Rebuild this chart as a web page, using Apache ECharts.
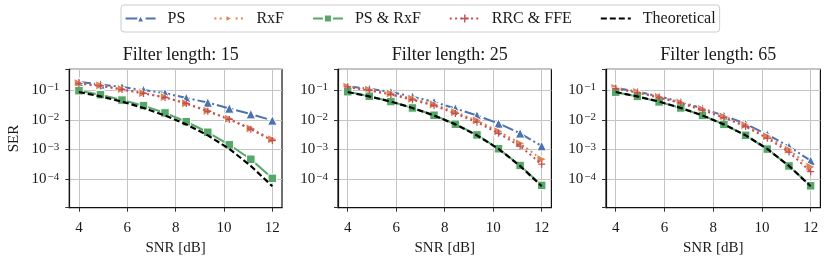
<!DOCTYPE html>
<html><head><meta charset="utf-8">
<script src="https://cdn.jsdelivr.net/npm/echarts@6/dist/echarts.min.js"></script>
<style>html,body{margin:0;padding:0;background:#fff}#c{width:830px;height:261px}</style>
</head><body><div id="c"></div>
<script>
const snr = [4, 4.89, 5.78, 6.67, 7.56, 8.44, 9.33, 10.22, 11.11, 12];
const xTicks = [4, 6, 8, 10, 12];
const panelTitles = ['Filter length: 15', 'Filter length: 25', 'Filter length: 65'];
const seriesNames = ['PS', 'RxF', 'PS & RxF', 'RRC & FFE', 'Theoretical'];

const ps15    = [0.186, 0.155, 0.126, 0.100, 0.079, 0.054, 0.038, 0.024, 0.0155, 0.0095];
const rxf15   = [0.170, 0.144, 0.108, 0.079, 0.058, 0.036, 0.020, 0.0108, 0.0051, 0.0022];
const psrxf15 = [0.095, 0.070, 0.046, 0.030, 0.017, 0.0086, 0.0038, 0.00144, 0.00047, 0.000107];
const rrc15   = [0.165, 0.139, 0.104, 0.077, 0.056, 0.035, 0.0192, 0.0103, 0.0048, 0.0020];

const ps25    = [0.135, 0.110, 0.086, 0.060, 0.040, 0.024, 0.014, 0.0075, 0.0035, 0.0013];
const rxf25   = [0.130, 0.103, 0.077, 0.051, 0.033, 0.018, 0.0095, 0.0041, 0.0016, 0.00047];
const psrxf25 = [0.088, 0.062, 0.041, 0.025, 0.0142, 0.0071, 0.0031, 0.00106, 0.00029, 0.000062];
const rrc25   = [0.125, 0.097, 0.071, 0.047, 0.030, 0.0163, 0.0083, 0.0035, 0.0013, 0.00032];

const ps65    = [0.120, 0.088, 0.061, 0.040, 0.024, 0.0138, 0.0073, 0.0032, 0.00125, 0.00042];
const rxf65   = [0.118, 0.086, 0.059, 0.038, 0.023, 0.0128, 0.0066, 0.0028, 0.00098, 0.00026];
const psrxf65 = [0.085, 0.061, 0.040, 0.025, 0.0140, 0.0070, 0.0030, 0.00103, 0.00028, 0.000060];
const rrc65   = [0.112, 0.082, 0.056, 0.036, 0.021, 0.0118, 0.0059, 0.0024, 0.00082, 0.00018];

const theory  = [0.086, 0.061, 0.041, 0.025, 0.0140, 0.0070, 0.0030, 0.00105, 0.00028, 0.000058];

const panels = [
  [ps15, rxf15, psrxf15, rrc15, theory],
  [ps25, rxf25, psrxf25, rrc25, theory],
  [ps65, rxf65, psrxf65, rrc65, theory]
];

const FONT = '"Liberation Serif", "DejaVu Serif", serif';
const TXT = '#1a1a1a';
const gridPos = [{left: 69.3, width: 212.7}, {left: 338, width: 213.4}, {left: 606, width: 214.4}];
const plusPath = 'path://M3.3,0H4.7V3.3H8V4.7H4.7V8H3.3V4.7H0V3.3H3.3Z';

const styles = [
  {color: '#4C72B0', symbol: 'triangle', size: 9.5, rotate: 0, type: [12, 3, 2, 3], border: 1},
  {color: '#DD8452', symbol: 'triangle', size: 9.5, rotate: -90, type: [2, 3.3], border: 1},
  {color: '#55A868', symbol: 'rect', size: 8.5, rotate: 0, type: 'solid', border: 1},
  {color: '#C44E52', symbol: plusPath, size: 7, rotate: 0, type: [2, 3.3], border: 0},
  {color: '#000000', symbol: 'none', size: 0, rotate: 0, type: [6, 3], border: 0}
];

const grids = [], xAxes = [], yAxes = [], titles = [], series = [];
gridPos.forEach((g, i) => {
  grids.push({left: g.left, width: g.width, top: 69.3, height: 138.4, show: true,
    borderColor: '#111', borderWidth: 1.2, backgroundColor: 'transparent'});
  titles.push({text: panelTitles[i], left: g.left + g.width / 2, top: 41.5, textAlign: 'center',
    textStyle: {fontFamily: FONT, fontSize: 18, fontWeight: 'normal', color: TXT}});
  xAxes.push({type: 'value', gridIndex: i, min: 3.6, max: 12.4,
    name: 'SNR [dB]', nameLocation: 'middle', nameGap: 26,
    nameTextStyle: {fontFamily: FONT, fontSize: 15, color: TXT},
    axisLine: {show: true, onZero: false, lineStyle: {color: '#111', width: 1.2}},
    axisTick: {show: true, length: 4, customValues: xTicks, lineStyle: {color: '#333', width: 1}},
    axisLabel: {customValues: xTicks, margin: 13, fontFamily: FONT, fontSize: 15, color: TXT,
      formatter: v => {const r = Math.round(v); return (Math.abs(v - r) < 1e-6 && r % 2 === 0) ? String(r) : '';}},
    splitLine: {show: true, lineStyle: {color: '#c4c4c4', width: 1}}
  });
  yAxes.push({type: 'log', logBase: 10, gridIndex: i, min: 1.1e-5, max: 0.5, splitNumber: 4,
    name: i === 0 ? 'SER' : '', nameLocation: 'middle', nameGap: 48, nameRotate: 90,
    nameTextStyle: {fontFamily: FONT, fontSize: 15, color: TXT},
    axisLine: {show: true, lineStyle: {color: '#111', width: 1.2}},
    axisTick: {show: true, length: 4, lineStyle: {color: '#333', width: 1}},
    minorTick: {show: false}, minorSplitLine: {show: false},
    axisLabel: {margin: 10, fontFamily: FONT, fontSize: 15, color: TXT,
      formatter: v => {const e = Math.log10(v); const r = Math.round(e);
        if (Math.abs(e - r) > 1e-6) return '';
        return '{b|10}{s|' + (r < 0 ? '\u2212' : '') + Math.abs(r) + '}';},
      rich: {b: {fontFamily: FONT, fontSize: 15, color: TXT, lineHeight: 16, verticalAlign: 'middle'},
             s: {fontFamily: FONT, fontSize: 11, color: TXT, lineHeight: 16, verticalAlign: 'top', padding: [0, 0, 0, 1]}}},
    splitLine: {show: true, lineStyle: {color: '#c4c4c4', width: 1}}
  });
  panels[i].forEach((vals, k) => {
    const st = styles[k];
    series.push({
      name: seriesNames[k], type: 'line', xAxisIndex: i, yAxisIndex: i,
      data: snr.map((x, j) => [x, vals[j]]),
      symbol: st.symbol, symbolSize: st.size, symbolRotate: st.rotate, showSymbol: st.symbol !== 'none',
      lineStyle: {color: st.color, width: k === 4 ? 2.2 : 2, type: st.type, cap: 'butt'},
      itemStyle: {color: st.color, borderColor: '#fff', borderWidth: st.border},
      emphasis: {disabled: true}, z: 2 + k
    });
  });
});

const legendWidths = [20.4, 28.5, 60.5, 83, 73];
const chart = echarts.init(document.getElementById('c'), null, {renderer: 'canvas'});
chart.setOption({
  animation: false,
  backgroundColor: '#fff',
  title: titles,
  legend: {
    data: seriesNames.map((n, k) => {
      const item = {name: n, textStyle: {width: legendWidths[k]}};
      if (k === 4) item.itemStyle = {opacity: 0};
      return item;
    }),
    left: 121, top: 5, padding: [5.5, 4, 5.5, 3.6],
    borderColor: '#cccccc', borderWidth: 1, borderRadius: 3,
    itemWidth: 30, itemHeight: 10, itemGap: 28,
    textStyle: {fontFamily: FONT, fontSize: 16, color: TXT, padding: [0, 0, 0, 7]}},
  grid: grids, xAxis: xAxes, yAxis: yAxes, series: series
});
</script></body></html>
